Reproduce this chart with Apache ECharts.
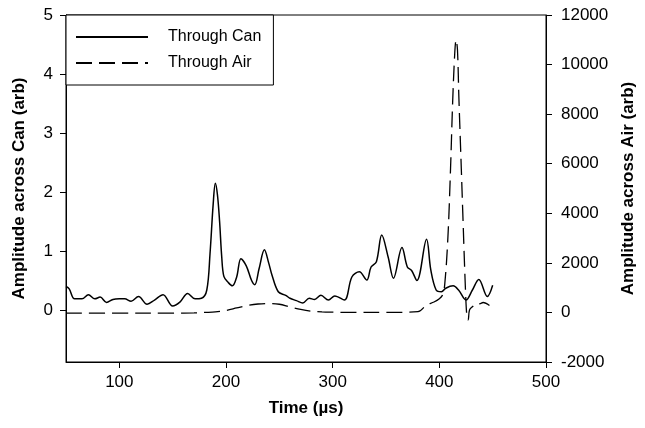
<!DOCTYPE html>
<html>
<head>
<meta charset="utf-8">
<script src="https://cdn.jsdelivr.net/npm/echarts@6/dist/echarts.min.js"></script>
<style>html,body{margin:0;padding:0;background:#fff}#c{width:645px;height:428px}</style>
</head>
<body>
<div id="c"></div>
<script>
// Through Can (left axis) — time in µs, amplitude (arb)
const canTime = [50,53,58,65,71,77,82,88,94,100,105,111,118,126,133,141,150,157,164,171,177,182,185,188,190,192,194,196,198,202,206,210,214,219,224,227,231,236,240,243,249,256,260,266,272,278,283,289,296,302,311,318,325,332,336,341,346,352,357,365,370,374,379,388,392,397,402,406,413,418,425,431,437,445,450];
const canAmp  = [0.40,0.36,0.19,0.19,0.26,0.19,0.22,0.13,0.18,0.19,0.19,0.15,0.23,0.10,0.17,0.26,0.07,0.14,0.28,0.19,0.20,0.34,0.95,1.80,2.15,1.95,1.50,0.90,0.57,0.47,0.41,0.56,0.87,0.75,0.50,0.43,0.70,1.02,0.80,0.60,0.31,0.25,0.20,0.16,0.12,0.20,0.18,0.25,0.17,0.24,0.17,0.56,0.65,0.51,0.73,0.82,1.27,0.90,0.54,1.06,0.73,0.67,0.50,1.20,0.68,0.34,0.31,0.37,0.41,0.34,0.17,0.34,0.52,0.23,0.42];
// Through Air (right axis)
const airTime = [50,100,150,170,180,190,200,210,220,230,240,250,260,270,280,290,300,320,350,380,388,395,400,403,405,408,410.5,412.5,414.5,415.7,417,418.3,420.6,422,424.6,426,427,428.3,431.5,434,437.8,441,447];
const airAmp  = [-30,-30,-30,-20,0,20,80,180,280,340,360,330,220,120,50,20,10,0,0,30,300,420,550,700,1100,3000,5800,8500,10500,11000,10600,8700,5800,4000,800,-250,-300,100,250,350,350,400,280];
// Axis ticks
const xTicks = [100,200,300,400,500];
const leftTicks = [0,1,2,3,4,5];

const canData = canTime.map((t,i)=>[t,canAmp[i]]);
const airData = airTime.map((t,i)=>[t,airAmp[i]]);

const font = 'Liberation Sans, Arial, sans-serif';
const chart = echarts.init(document.getElementById('c'));
chart.setOption({
  animation:false,
  backgroundColor:'#fff',
  grid:{left:66,right:98,top:15,bottom:66,show:true,borderColor:'#000',borderWidth:1,backgroundColor:'transparent'},
  legend:{
    left:66, top:15, orient:'vertical',
    itemWidth:72, itemHeight:14, itemGap:10,
    padding:[14,12,14,9],
    borderColor:'#000', borderWidth:1, borderRadius:0,
    backgroundColor:'#fff',
    itemStyle:{opacity:0},
    textStyle:{fontFamily:font,fontSize:16,color:'#000',padding:[0,0,0,15]},
    data:['Through Can','Through Air']
  },
  xAxis:{
    type:'value', min:50, max:500,
    name:'Time (µs)', nameLocation:'middle', nameGap:38,
    nameTextStyle:{fontFamily:font,fontSize:17,fontWeight:'bold',color:'#000'},
    axisLine:{onZero:false,lineStyle:{color:'#000',width:1}},
    axisTick:{show:true,inside:false,length:6,customValues:xTicks,lineStyle:{color:'#000'}},
    axisLabel:{customValues:xTicks,margin:12,fontFamily:font,fontSize:17,color:'#000'},
    splitLine:{show:false}
  },
  yAxis:[{
    type:'value', min:-0.88, max:5, position:'left',
    name:'Amplitude across Can (arb)', nameLocation:'middle', nameGap:38,
    nameTextStyle:{fontFamily:font,fontSize:17,fontWeight:'bold',color:'#000'},
    axisLine:{show:true,onZero:false,lineStyle:{color:'#000',width:1}},
    axisTick:{show:true,length:6,customValues:leftTicks,lineStyle:{color:'#000'}},
    axisLabel:{customValues:leftTicks,margin:13,fontFamily:font,fontSize:17,color:'#000'},
    splitLine:{show:false}
  },{
    type:'value', min:-2000, max:12000, interval:2000, position:'right',
    name:'Amplitude across Air (arb)', nameLocation:'middle', nameGap:74,
    nameTextStyle:{fontFamily:font,fontSize:17,fontWeight:'bold',color:'#000'},
    axisLine:{show:true,onZero:false,lineStyle:{color:'#000',width:1}},
    axisTick:{show:true,length:6,lineStyle:{color:'#000'}},
    axisLabel:{margin:15,fontFamily:font,fontSize:17,color:'#000',formatter:v=>String(v)},
    splitLine:{show:false}
  }],
  series:[{
    name:'Through Can', type:'line', yAxisIndex:0, data:canData,
    symbol:'none', smooth:0.35,
    lineStyle:{color:'#000',width:1.5},
    itemStyle:{color:'#000'}
  },{
    name:'Through Air', type:'line', yAxisIndex:1, data:airData,
    symbol:'none', smooth:0.35,
    lineStyle:{color:'#000',width:1.3,type:[16,7]},
    itemStyle:{color:'#000'}
  }]
});
</script>
</body>
</html>
